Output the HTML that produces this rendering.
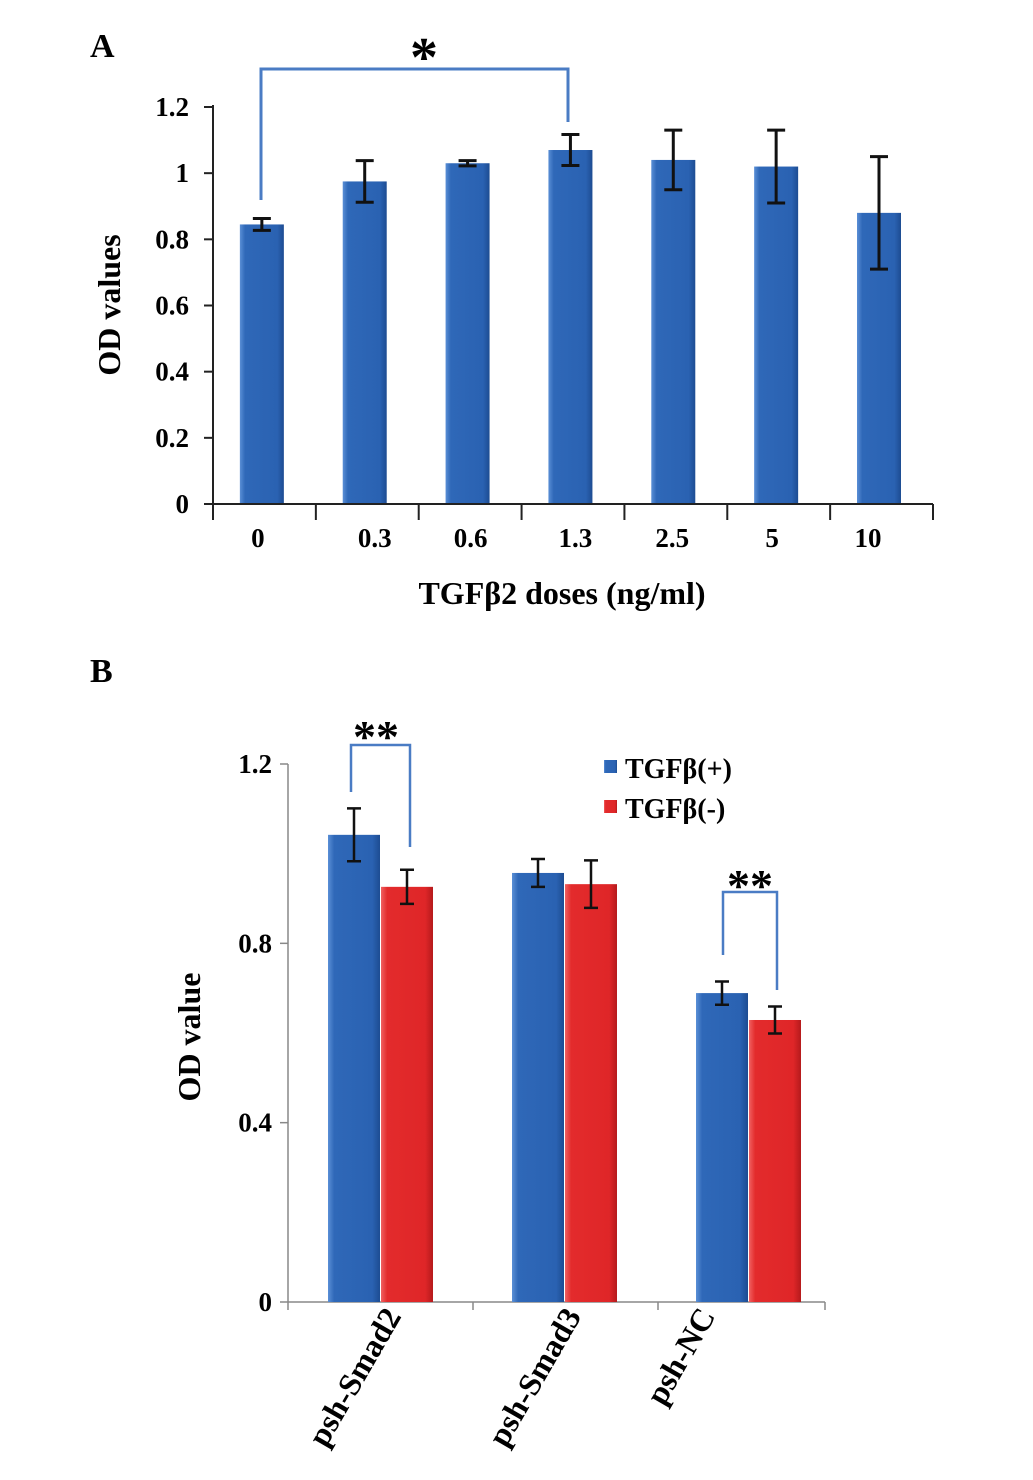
<!DOCTYPE html>
<html><head><meta charset="utf-8">
<style>
body{margin:0;background:#fff;}
svg{display:block;font-family:"Liberation Serif",serif;font-weight:bold;}
</style></head>
<body>
<svg id="chart" width="1033" height="1480" viewBox="0 0 1033 1480" xmlns="http://www.w3.org/2000/svg">
<defs>
<linearGradient id="gb" x1="0" x2="1" y1="0" y2="0">
<stop offset="0" stop-color="#5a8fd6"/><stop offset="0.12" stop-color="#2f68b8"/><stop offset="0.85" stop-color="#2a62b2"/><stop offset="1" stop-color="#1d4c92"/></linearGradient>
<linearGradient id="gr" x1="0" x2="1" y1="0" y2="0">
<stop offset="0" stop-color="#f06060"/><stop offset="0.12" stop-color="#e32b2c"/><stop offset="0.85" stop-color="#df2628"/><stop offset="1" stop-color="#b51a1c"/></linearGradient>
</defs>
<g id="pa"></g>
<g id="pb"></g>
</svg>
<script>
const aCats=["0","0.3","0.6","1.3","2.5","5","10"];
const aVals=[0.845,0.975,1.03,1.07,1.04,1.02,0.88];
const aErr=[0.018,0.063,0.008,0.047,0.09,0.11,0.17];
const aTicks=[0,0.2,0.4,0.6,0.8,1,1.2];
const aTickLabels=["0","0.2","0.4","0.6","0.8","1","1.2"];
const bCats=["psh-Smad2","psh-Smad3","psh-NC"];
const bPlus=[1.042,0.957,0.689];
const bPlusErr=[0.059,0.031,0.026];
const bMinus=[0.926,0.932,0.629];
const bMinusErr=[0.038,0.053,0.03];
const bTicks=[0,0.4,0.8,1.2];
const bTickLabels=["0","0.4","0.8","1.2"];

const NS="http://www.w3.org/2000/svg";
function mk(parent,tag,attrs,txt){const e=document.createElementNS(NS,tag);for(const k in attrs)e.setAttribute(k,attrs[k]);if(txt!==undefined)e.textContent=txt;parent.appendChild(e);return e;}

// Panel A
const pa=document.getElementById('pa');
const ay=v=>504-v*(504-107)/1.2;
const ax0=213,ax1=933,aStep=(ax1-ax0)/aCats.length;
const ax=i=>ax0+aStep*(i+0.475);
const aLabelShift=[-4,10,3,5,-1,-4,-11];
let t=mk(pa,'text',{x:90,y:57,'font-size':34},'A');

let e=mk(pa,'line',{x1:ax0,y1:ay(1.2)-2,x2:ax0,y2:504,stroke:'#222','stroke-width':2});

aTicks.forEach((v,i)=>{
  let l=mk(pa,'line',{x1:ax0-9,y1:ay(v),x2:ax0,y2:ay(v),stroke:'#222','stroke-width':2});
  
  let tx=mk(pa,'text',{x:ax0-24,y:ay(v)+9,'font-size':27,'text-anchor':'end'},aTickLabels[i]);
  
});
aCats.forEach((c,i)=>{
  const w=44,cx=ax(i),x=cx-w/2;
  let r=mk(pa,'rect',{x:x,y:ay(aVals[i]),width:w,height:504-ay(aVals[i]),fill:'url(#gb)'});
  
  const y1=ay(aVals[i]+aErr[i]),y2=ay(aVals[i]-aErr[i]);
  let g=mk(pa,'path',{d:`M${cx},${y1}V${y2}M${cx-9},${y1}H${cx+9}M${cx-9},${y2}H${cx+9}`,stroke:'#111','stroke-width':3,fill:'none'});
  
  let tx=mk(pa,'text',{x:cx+aLabelShift[i],y:547,'font-size':27,'text-anchor':'middle'},c);
  
});
for(let i=0;i<=aCats.length;i++){
  const x=ax0+aStep*i;
  let l=mk(pa,'line',{x1:x,y1:504,x2:x,y2:520,stroke:'#222','stroke-width':2});
  
}
e=mk(pa,'line',{x1:ax0,y1:504,x2:ax1,y2:504,stroke:'#222','stroke-width':2});

e=mk(pa,'text',{x:562,y:604,'font-size':32,'text-anchor':'middle'},'TGFβ2 doses (ng/ml)');

e=mk(pa,'text',{x:0,y:0,'font-size':32,'text-anchor':'middle',transform:'translate(120,305) rotate(-90)'},'OD values');

e=mk(pa,'path',{d:`M261,200V69H568V122`,stroke:'#4a7cc4','stroke-width':3,fill:'none'});

e=mk(pa,'text',{x:424,y:76,'font-size':56,'text-anchor':'middle'},'*');


// Panel B
const pb=document.getElementById('pb');
const by=v=>1302-v*(1302-764)/1.2;
const bx0=288,bx1=825;
const bCenters=[381,565,749];
const bLabelAnchor=[402,582,716];
t=mk(pb,'text',{x:90,y:682,'font-size':34},'B');

e=mk(pb,'line',{x1:bx0,y1:by(1.2),x2:bx0,y2:1302,stroke:'#888','stroke-width':1.5});

bTicks.forEach((v,i)=>{
  let l=mk(pb,'line',{x1:bx0-8,y1:by(v),x2:bx0,y2:by(v),stroke:'#888','stroke-width':1.5});
  
  let tx=mk(pb,'text',{x:bx0-16,y:by(v)+9,'font-size':27,'text-anchor':'end'},bTickLabels[i]);
  
});
e=mk(pb,'line',{x1:bx0,y1:1302,x2:bx1,y2:1302,stroke:'#888','stroke-width':1.5});

[288,473,658,825].forEach(x=>{
  let l=mk(pb,'line',{x1:x,y1:1302,x2:x,y2:1310,stroke:'#888','stroke-width':1.5});
  
});
function bar(cx,v,err,fill,name){
  const w=52;
  let r=mk(pb,'rect',{x:cx,y:by(v),width:w,height:1302-by(v),fill:fill});
  
  const m=cx+w/2,y1=by(v+err),y2=by(v-err);
  let g=mk(pb,'path',{d:`M${m},${y1}V${y2}M${m-7},${y1}H${m+7}M${m-7},${y2}H${m+7}`,stroke:'#111','stroke-width':2.5,fill:'none'});
  
}
bCats.forEach((c,i)=>{
  const cx=bCenters[i];
  bar(cx-53,bPlus[i],bPlusErr[i],'url(#gb)','b-bar-plus-'+c);
  bar(cx,bMinus[i],bMinusErr[i],'url(#gr)','b-bar-minus-'+c);
  let tx=mk(pb,'text',{x:0,y:0,'font-size':32,'text-anchor':'end',transform:`translate(${bLabelAnchor[i]},1316) rotate(-60)`},c);
  
});
e=mk(pb,'path',{d:`M351,792V745H410V847`,stroke:'#4a7cc4','stroke-width':2.5,fill:'none'});

e=mk(pb,'text',{x:376,y:752,'font-size':46,'text-anchor':'middle'},'**');

e=mk(pb,'path',{d:`M723,955V892H777V990`,stroke:'#4a7cc4','stroke-width':2.5,fill:'none'});

e=mk(pb,'text',{x:750,y:901,'font-size':46,'text-anchor':'middle'},'**');

e=mk(pb,'rect',{x:604,y:760,width:13,height:13,fill:'url(#gb)'});

e=mk(pb,'text',{x:625,y:778,'font-size':28},'TGFβ(+)');

e=mk(pb,'rect',{x:604,y:800,width:13,height:13,fill:'url(#gr)'});

e=mk(pb,'text',{x:625,y:818,'font-size':28},'TGFβ(-)');

e=mk(pb,'text',{x:0,y:0,'font-size':32,'text-anchor':'middle',transform:'translate(200,1037) rotate(-90)'},'OD value');

</script>
</body></html>
